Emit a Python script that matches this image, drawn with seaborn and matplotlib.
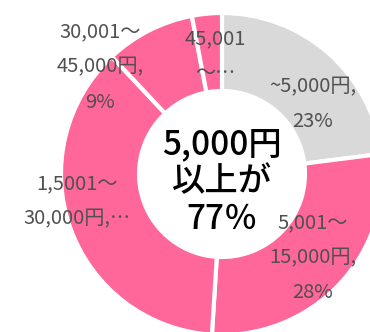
import matplotlib
matplotlib.use("Agg")
import matplotlib.pyplot as plt
import seaborn as sns

# Spending brackets and their shares (%)
categories = ["~5,000円", "5,001～15,000円", "1,5001～30,000円", "30,001～45,000円", "45,001～"]
shares = [23, 28, 37, 9, 3]
label_lines = [
    ["~5,000円,", "23%"],
    ["5,001～", "15,000円,", "28%"],
    ["1,5001～", "30,000円,…"],
    ["30,001～", "45,000円,", "9%"],
    ["45,001", "～…"],
]
center_lines = ["5,000円", "以上が", "77％"]

# Label block centres in pixel coordinates (x from left, y from top)
label_pos = [(313, 104), (313, 258), (77, 201), (100, 67), (215, 56)]

sns.set_theme(style="white")
plt.rcParams["font.family"] = ["Noto Sans CJK JP", "DejaVu Sans"]

W, H = 370, 332
fig = plt.figure(figsize=(W / 100, H / 100), dpi=100)
ax = fig.add_axes([0, 0, 1, 1])

gray = "#D9D9D9"
pink = "#FF6699"
colors = [gray, pink, pink, pink, pink]

cx, cy = 222, H - 174
R = 161
ax.pie(shares, colors=colors, startangle=90, counterclock=False,
       center=(cx, cy), radius=R, frame=True,
       wedgeprops=dict(width=78, edgecolor="white", linewidth=3))
ax.set_xlim(0, W)
ax.set_ylim(0, H)
ax.set_aspect("equal")
ax.axis("off")

line_gap = 35
txt_color = "#505050"
for lines, (px, py) in zip(label_lines, label_pos):
    n = len(lines)
    for i, s in enumerate(lines):
        yy = py + (i - (n - 1) / 2) * line_gap
        ax.text(px, H - yy, s, ha="center", va="center", fontsize=14.5,
                color=txt_color, fontweight="normal")

for i, s in enumerate(center_lines):
    yy = 182 + (i - 1) * 37
    ax.text(cx, H - yy, s, ha="center", va="center", fontsize=24, color="black",
            fontweight="medium")

fig.savefig("out.png", dpi=100)
